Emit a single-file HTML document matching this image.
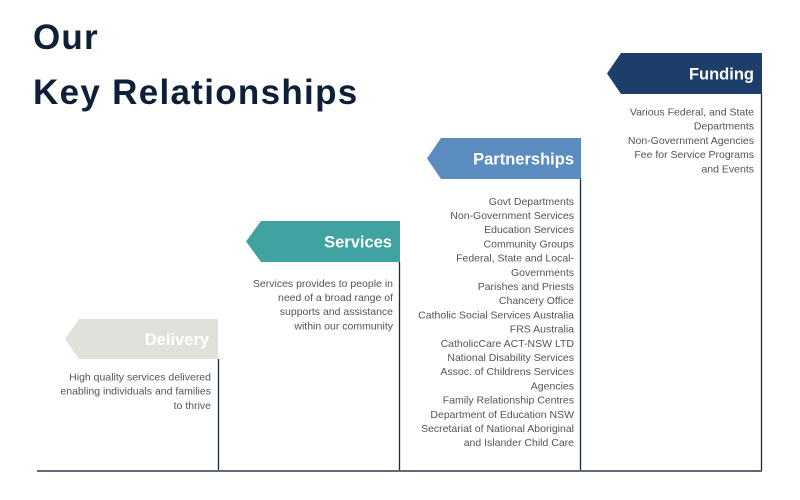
<!DOCTYPE html>
<html>
<head>
<meta charset="utf-8">
<style>
  html,body{margin:0;padding:0;background:#fff;}
  svg{display:block;}
  .t{font-family:"Liberation Sans",Arial,sans-serif;}
  .body{font-size:10.5px;fill:#545454;}
  .lab{font-size:16.5px;font-weight:bold;fill:#fff;}
</style>
</head>
<body>
<svg width="800" height="500" viewBox="0 0 800 500" xmlns="http://www.w3.org/2000/svg">
  <rect width="800" height="500" fill="#fff"/>
  <!-- Title -->
  <text class="t" x="33" y="49" font-size="35" font-weight="bold" fill="#0f1f38" letter-spacing="1.2">Our</text>
  <text class="t" x="33" y="104" font-size="35" font-weight="bold" fill="#0f1f38" letter-spacing="1.3">Key Relationships</text>

  <!-- vertical lines -->
  <g stroke="#1a2a42" stroke-width="1.3">
    <line x1="761.5" y1="94" x2="761.5" y2="471"/>
    <line x1="580.5" y1="179" x2="580.5" y2="471"/>
    <line x1="399.5" y1="262" x2="399.5" y2="471"/>
    <line x1="218.5" y1="359" x2="218.5" y2="471"/>
  </g>
  <!-- baseline -->
  <line x1="37" y1="471" x2="762" y2="471" stroke="#5f6b78" stroke-width="2"/>

  <!-- banners -->
  <polygon points="607,73.5 621,53 762,53 762,94 621,94" fill="#1d3d6b"/>
  <polygon points="427,158.5 441,138 581,138 581,179 441,179" fill="#5a8cbf"/>
  <polygon points="246,241.5 261,221 400,221 400,262 261,262" fill="#40a3a2"/>
  <polygon points="65,339 79,319 218,319 218,359 79,359" fill="#e1e0db"/>

  <text class="t lab" x="754" y="79.5" text-anchor="end">Funding</text>
  <text class="t lab" x="574" y="164.5" text-anchor="end">Partnerships</text>
  <text class="t lab" x="392" y="247.5" text-anchor="end">Services</text>
  <text class="t lab" x="209" y="345" text-anchor="end">Delivery</text>

  <!-- Funding text -->
  <g class="t body" text-anchor="end">
    <text x="754" y="115.5">Various Federal, and State</text>
    <text x="754" y="129.7">Departments</text>
    <text x="754" y="143.9">Non-Government Agencies</text>
    <text x="754" y="158.1">Fee for Service Programs</text>
    <text x="754" y="172.3">and Events</text>
  </g>

  <!-- Partnerships text -->
  <g class="t body" text-anchor="end">
    <text x="574" y="204.8">Govt Departments</text>
    <text x="574" y="219.0">Non-Government Services</text>
    <text x="574" y="233.2">Education Services</text>
    <text x="574" y="247.4">Community Groups</text>
    <text x="574" y="261.6">Federal, State and Local-</text>
    <text x="574" y="275.8">Governments</text>
    <text x="574" y="290.0">Parishes and Priests</text>
    <text x="574" y="304.2">Chancery Office</text>
    <text x="574" y="318.4">Catholic Social Services Australia</text>
    <text x="574" y="332.6">FRS Australia</text>
    <text x="574" y="346.8">CatholicCare ACT-NSW LTD</text>
    <text x="574" y="361.0">National Disability Services</text>
    <text x="574" y="375.2">Assoc. of Childrens Services</text>
    <text x="574" y="389.4">Agencies</text>
    <text x="574" y="403.6">Family Relationship Centres</text>
    <text x="574" y="417.8">Department of Education NSW</text>
    <text x="574" y="432.0">Secretariat of National Aboriginal</text>
    <text x="574" y="446.2">and Islander Child Care</text>
  </g>

  <!-- Services text -->
  <g class="t body" text-anchor="end">
    <text x="393" y="286.8">Services provides to people in</text>
    <text x="393" y="301.0">need of a broad range of</text>
    <text x="393" y="315.2">supports and assistance</text>
    <text x="393" y="329.4">within our community</text>
  </g>

  <!-- Delivery text -->
  <g class="t body" text-anchor="end">
    <text x="211" y="380.5">High quality services delivered</text>
    <text x="211" y="394.7">enabling individuals and families</text>
    <text x="211" y="408.9">to thrive</text>
  </g>
</svg>
</body>
</html>
